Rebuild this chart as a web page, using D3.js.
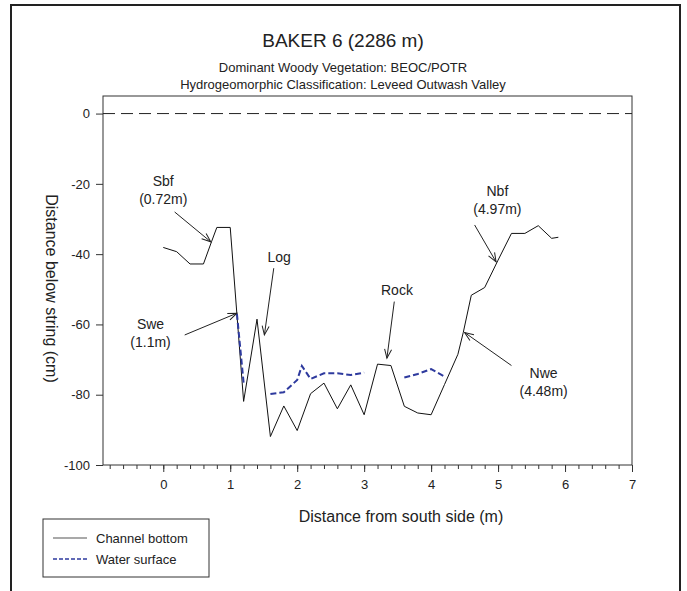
<!DOCTYPE html>
<html>
<head>
<meta charset="utf-8">
<script src="https://cdn.jsdelivr.net/npm/d3@7"></script>
<style>
  body { margin: 0; background: #fff; }
  text { font-family: "Liberation Sans", Arial, sans-serif; fill: #222; }
  .axis path, .axis line { stroke: #333; }
  .axis text { font-size: 13px; }
</style>
</head>
<body>
<div class="chartdiv"></div>
<script>
/*
cross-section profile of BAKER 6 channel
*/

// channel bottom (distance in m, depth in cm)
var bottomX = [0, 0.2, 0.4, 0.6, 0.72, 0.8, 1.0, 1.2, 1.4, 1.6, 1.8, 2.0, 2.2, 2.4, 2.6, 2.8, 3.0,
               3.2, 3.4, 3.6, 3.8, 4.0, 4.2, 4.4, 4.48, 4.6, 4.8, 5.0, 5.2, 5.4, 5.6, 5.8, 5.9];
var bottomY = [-38.1, -39.3, -42.8, -42.8, -36.5, -32.4, -32.4, -81.9, -58.5, -91.9, -83.2, -90.2, -79.7, -76.7, -84.0, -77.2, -85.7,
               -71.3, -71.7, -83.3, -85.2, -85.7, -77.1, -68.5, -62.3, -51.7, -49.5, -41.7, -34.1, -34.1, -31.9, -35.5, -35.2];

// water surface, null where the bottom sticks out
var waterX = [1.1, 1.2, 1.4, 1.6, 1.8, 2.0, 2.07, 2.2, 2.4, 2.6, 2.8, 3.0, 3.2, 3.4, 3.6, 3.8, 4.0, 4.2];
var waterY = [-57.0, -76.6, null, -79.8, -79.3, -75.8, -71.8, -75.5, -73.9, -73.9, -74.4, -73.7, null, null, -75.1, -74.1, -72.7, -74.8];

// string level
var stringX = [-0.9, 7];
var stringY = [0, 0];

var xTicks = [0, 1, 2, 3, 4, 5, 6, 7];
var yTicks = [0, -20, -40, -60, -80, -100];

// annotation labels: text lines, text spot, arrow tail, arrow head (data units)
var annoLabels = [["Sbf", "(0.72m)"], ["Swe", "(1.1m)"], ["Log"], ["Rock"], ["Nbf", "(4.97m)"], ["Nwe", "(4.48m)"]];
var annoText = [[0.0, -19.1], [-0.19, -60.0], [1.73, -40.7], [3.49, -50.2], [4.99, -22.1], [5.68, -73.8]];
var annoTail = [[0.17, -28.0], [0.32, -63.0], [1.65, -44.0], [3.45, -53.5], [4.65, -31.7], [5.20, -71.7]];
var annoHead = [[0.71, -36.5], [1.10, -56.8], [1.51, -63.0], [3.34, -69.6], [4.97, -42.2], [4.50, -62.3]];

var bottom = bottomX.map(function(d, i) { return {x: d, y: bottomY[i]}; });
var water = waterX.map(function(d, i) { return {x: d, y: waterY[i]}; });
var string = stringX.map(function(d, i) { return {x: d, y: stringY[i]}; });

// page size and plot area
var W = 687, H = 591;
var margin = {top: 96, right: 55, bottom: 126, left: 103};
var width = W - margin.left - margin.right;
var height = H - margin.top - margin.bottom;

var x = d3.scaleLinear().domain([-0.9, 7]).range([0, width]);
var y = d3.scaleLinear().domain([-100, 5]).range([height, 0]);

// plain hyphen instead of the unicode minus
var fmt = function(d) { return String(d); };

var svg = d3.select(".chartdiv")
    .append("svg")
    .attr("width", W)
    .attr("height", H);

// outer frame
svg.append("rect")
    .attr("x", 11)
    .attr("y", 5)
    .attr("width", 669)
    .attr("height", 600)
    .attr("fill", "none")
    .attr("stroke", "#222")
    .attr("stroke-width", 2);

// titles
svg.append("text")
    .attr("x", 343).attr("y", 47)
    .style("text-anchor", "middle")
    .style("font-size", "19px")
    .text("BAKER 6 (2286 m)");

svg.append("text")
    .attr("x", 343).attr("y", 72)
    .style("text-anchor", "middle")
    .style("font-size", "13px")
    .text("Dominant Woody Vegetation: BEOC/POTR");

svg.append("text")
    .attr("x", 343).attr("y", 89)
    .style("text-anchor", "middle")
    .style("font-size", "13px")
    .text("Hydrogeomorphic Classification: Leveed Outwash Valley");

var g = svg.append("g")
    .attr("transform", "translate(" + margin.left + "," + margin.top + ")");

// plot box
g.append("rect")
    .attr("width", width)
    .attr("height", height)
    .attr("fill", "none")
    .attr("stroke", "#333");

// x axis with minor ticks
g.append("g")
    .classed("axis", true)
    .attr("transform", "translate(0," + height + ")")
    .call(d3.axisBottom(x).tickValues(d3.range(-4, 36).map(function(d) { return d / 5; }))
        .tickSize(4).tickFormat(""))
    .select(".domain").remove();

g.append("g")
    .classed("axis", true)
    .attr("transform", "translate(0," + height + ")")
    .call(d3.axisBottom(x).tickValues(xTicks).tickSize(7).tickPadding(8).tickFormat(fmt))
    .select(".domain").remove();

// y axis
g.append("g")
    .classed("axis", true)
    .call(d3.axisLeft(y).tickValues(yTicks).tickSize(7).tickPadding(6).tickFormat(fmt))
    .select(".domain").remove();

// axis titles
svg.append("text")
    .attr("x", margin.left + x(3.55))
    .attr("y", 522)
    .style("text-anchor", "middle")
    .style("font-size", "16px")
    .text("Distance from south side (m)");

svg.append("text")
    .attr("transform", "translate(46," + (margin.top + height / 2 + 8) + ") rotate(90)")
    .style("text-anchor", "middle")
    .style("font-size", "16px")
    .text("Distance below string (cm)");

var line = d3.line()
    .defined(function(d) { return d.y !== null; })
    .x(function(d) { return x(d.x); })
    .y(function(d) { return y(d.y); });

// string line
g.append("path")
    .datum(string)
    .attr("d", line)
    .attr("fill", "none")
    .attr("stroke", "#222")
    .attr("stroke-dasharray", "12,6");

// channel bottom
g.append("path")
    .datum(bottom)
    .attr("d", line)
    .attr("fill", "none")
    .attr("stroke", "#111")
    .attr("stroke-width", 1);

// water surface
g.append("path")
    .datum(water)
    .attr("d", line)
    .attr("fill", "none")
    .attr("stroke", "#2e3a9e")
    .attr("stroke-width", 2)
    .attr("stroke-dasharray", "6,3");

// open arrowhead
svg.append("defs").append("marker")
    .attr("id", "arrow")
    .attr("viewBox", "-10 -5 12 10")
    .attr("refX", 0).attr("refY", 0)
    .attr("markerWidth", 12).attr("markerHeight", 10)
    .attr("markerUnits", "userSpaceOnUse")
    .attr("orient", "auto")
    .append("path")
    .attr("d", "M-9,-3.5L0,0L-9,3.5")
    .attr("fill", "none")
    .attr("stroke", "#222");

// annotations
annoLabels.forEach(function(lab, i) {
    g.append("line")
        .attr("x1", x(annoTail[i][0])).attr("y1", y(annoTail[i][1]))
        .attr("x2", x(annoHead[i][0])).attr("y2", y(annoHead[i][1]))
        .attr("stroke", "#222")
        .attr("marker-end", "url(#arrow)");

    var t = g.append("text")
        .attr("x", x(annoText[i][0]))
        .attr("y", y(annoText[i][1]) + 5)
        .style("text-anchor", "middle")
        .style("font-size", "14px");
    lab.forEach(function(s, j) {
        t.append("tspan")
            .attr("x", x(annoText[i][0]))
            .attr("dy", j === 0 ? 0 : 18)
            .text(s);
    });
});

// legend
var legend = svg.append("g").attr("transform", "translate(43,519)");

legend.append("rect")
    .attr("width", 166)
    .attr("height", 58)
    .attr("fill", "#fff")
    .attr("stroke", "#333");

legend.append("line")
    .attr("x1", 10).attr("x2", 44)
    .attr("y1", 19).attr("y2", 19)
    .attr("stroke", "#555")
    .attr("stroke-width", 1.2);

legend.append("line")
    .attr("x1", 10).attr("x2", 44)
    .attr("y1", 40).attr("y2", 40)
    .attr("stroke", "#2e3a9e")
    .attr("stroke-width", 1.6)
    .attr("stroke-dasharray", "4,2");

legend.append("text")
    .attr("x", 53).attr("y", 24)
    .style("font-size", "13px")
    .text("Channel bottom");

legend.append("text")
    .attr("x", 53).attr("y", 45)
    .style("font-size", "13px")
    .text("Water surface");
</script>
</body>
</html>
